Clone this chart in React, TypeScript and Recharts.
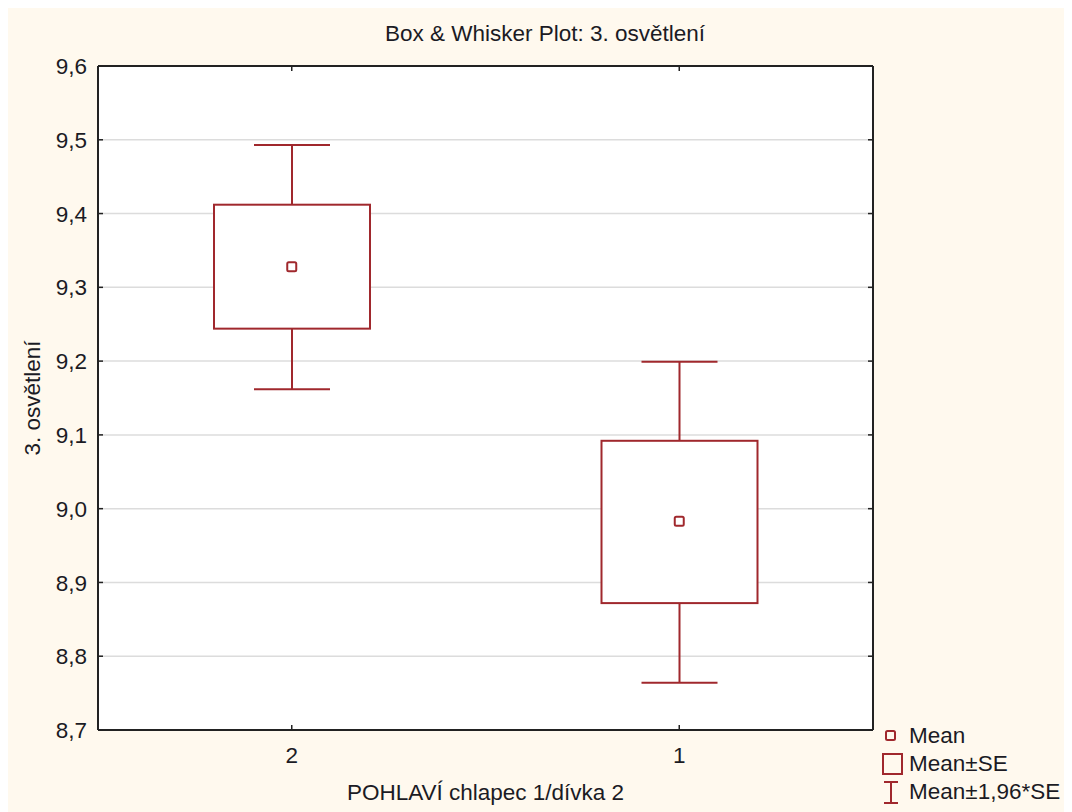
import React from 'react';
import {
  ComposedChart,
  Bar,
  Scatter,
  XAxis,
  YAxis,
  CartesianGrid,
} from 'recharts';

// values
const categories = ['2', '1'];
const means = [9.328, 8.983];
const boxLow = [9.244, 8.872];
const boxHigh = [9.412, 9.092];
const whiskerLow = [9.162, 8.764];
const whiskerHigh = [9.493, 9.199];
const yTicks = [8.7, 8.8, 8.9, 9.0, 9.1, 9.2, 9.3, 9.4, 9.5, 9.6];

const title = 'Box & Whisker Plot: 3. osvětlení';
const xTitle = 'POHLAVÍ chlapec 1/dívka 2';
const yTitle = '3. osvětlení';

const RED = '#a0282d';
const INK = '#1b1b24';
const BG = '#fff9ee';
const FONT = '"Liberation Sans", Arial, sans-serif';
const FS = 22.5;

const data = categories.map((cat, i) => ({
  cat,
  mean: means[i],
  box: [boxLow[i], boxHigh[i]],
  whisker: [whiskerLow[i], whiskerHigh[i]],
}));

const fmt = (v: number) => v.toFixed(1).replace('.', ',');

const WhiskerShape = (props: any) => {
  const { x, y, width, height } = props;
  const cx = x + width / 2;
  const cap = 38;
  return (
    <g stroke={RED} strokeWidth={2}>
      <line x1={cx} x2={cx} y1={y} y2={y + height} />
      <line x1={cx - cap} x2={cx + cap} y1={y} y2={y} />
      <line x1={cx - cap} x2={cx + cap} y1={y + height} y2={y + height} />
    </g>
  );
};

const BoxShape = (props: any) => {
  const { x, y, width, height } = props;
  return <rect x={x} y={y} width={width} height={height} fill="#fff" stroke={RED} strokeWidth={2} />;
};

const MeanShape = (props: any) => {
  const { cx, cy } = props;
  return <rect x={cx - 4.5} y={cy - 4.5} width={9} height={9} rx={1.5} fill="#fff" stroke={RED} strokeWidth={2} />;
};

const LeftTick = (props: any) => {
  const { x, y, payload } = props;
  const ax = x + 11;
  return (
    <g>
      <line x1={ax} x2={ax + 5} y1={y} y2={y} stroke="#222" strokeWidth={1.5} />
      <text x={x} y={y} dy="0.36em" textAnchor="end" fill={INK} fontSize={FS} fontFamily={FONT}>
        {fmt(payload.value)}
      </text>
    </g>
  );
};

const RightTick = (props: any) => {
  const { x, y } = props;
  return <line x1={x - 5} x2={x} y1={y} y2={y} stroke="#222" strokeWidth={1.5} />;
};

const BottomTick = (props: any) => {
  const { x, y, payload } = props;
  const ay = y - 17;
  return (
    <g>
      <line x1={x} x2={x} y1={ay} y2={ay - 5} stroke="#222" strokeWidth={1.5} />
      <text x={x} y={y} dy="0.71em" textAnchor="middle" fill={INK} fontSize={FS} fontFamily={FONT}>
        {payload.value}
      </text>
    </g>
  );
};

const TopTick = (props: any) => {
  const { x, y } = props;
  return <line x1={x} x2={x} y1={y} y2={y + 5} stroke="#222" strokeWidth={1.5} />;
};

const YTitle = (props: any) => {
  const { viewBox } = props;
  const cx = 24;
  const cy = viewBox.y + viewBox.height / 2;
  return (
    <text
      x={cx}
      y={cy}
      transform={`rotate(-90 ${cx} ${cy})`}
      textAnchor="middle"
      dominantBaseline="central"
      fill={INK}
      fontSize={FS}
      fontFamily={FONT}
    >
      {yTitle}
    </text>
  );
};

const LegendIcon = ({ kind }: { kind: string }) => (
  <svg width={24} height={26} style={{ display: 'block' }}>
    {kind === 'mean' && <rect x={5} y={8} width={9} height={9} rx={1.5} fill="none" stroke={RED} strokeWidth={2} />}
    {kind === 'box' && <rect x={2} y={3} width={19} height={20} fill="none" stroke={RED} strokeWidth={2} />}
    {kind === 'whisker' && (
      <g stroke={RED} strokeWidth={2}>
        <line x1={10} x2={10} y1={3} y2={24} />
        <line x1={3} x2={17} y1={3} y2={3} />
        <line x1={3} x2={17} y1={24} y2={24} />
      </g>
    )}
  </svg>
);

const legendItems = [
  { kind: 'mean', label: 'Mean' },
  { kind: 'box', label: 'Mean±SE' },
  { kind: 'whisker', label: 'Mean±1,96*SE' },
];

export default function App() {
  return (
    <div style={{ position: 'relative', width: 1064, height: 804, background: BG, fontFamily: FONT }}>
      <div
        style={{
          position: 'absolute',
          left: 0,
          width: 1074,
          top: 13,
          textAlign: 'center',
          fontSize: FS,
          color: INK,
        }}
      >
        {title}
      </div>
      <ComposedChart
        width={1064}
        height={804}
        data={data}
        margin={{ top: 50, right: 189, bottom: 52, left: 0 }}
        barGap={-156}
      >
        <CartesianGrid vertical={false} stroke="#dcdcdc" strokeWidth={1.5} fill="#fff" />
        <XAxis
          dataKey="cat"
          height={30}
          axisLine={{ stroke: '#222', strokeWidth: 2 }}
          tickLine={false}
          tickSize={0}
          tickMargin={17}
          tick={<BottomTick />}
          label={{ value: xTitle, position: 'insideBottom', offset: -40, fill: INK, fontSize: FS, fontFamily: FONT }}
        />
        <XAxis
          xAxisId="top"
          orientation="top"
          dataKey="cat"
          height={8}
          axisLine={{ stroke: '#222', strokeWidth: 2 }}
          tickLine={false}
          tickSize={0}
          tickMargin={0}
          tick={<TopTick />}
        />
        <YAxis
          width={90}
          domain={[8.7, 9.6]}
          ticks={yTicks}
          type="number"
          allowDataOverflow
          axisLine={{ stroke: '#222', strokeWidth: 2 }}
          tickLine={false}
          tickSize={0}
          tickMargin={11}
          tick={<LeftTick />}
          label={<YTitle />}
        />
        <YAxis
          yAxisId="right"
          orientation="right"
          width={10}
          domain={[8.7, 9.6]}
          ticks={yTicks}
          type="number"
          allowDataOverflow
          axisLine={{ stroke: '#222', strokeWidth: 2 }}
          tickLine={false}
          tickSize={0}
          tickMargin={0}
          tick={<RightTick />}
        />
        <Bar dataKey="whisker" barSize={156} shape={<WhiskerShape />} isAnimationActive={false} />
        <Bar dataKey="box" barSize={156} shape={<BoxShape />} isAnimationActive={false} />
        <Scatter
          dataKey="mean"
          xAxisId="top"
          yAxisId="right"
          shape={<MeanShape />}
          isAnimationActive={false}
        />
      </ComposedChart>
      <div style={{ position: 'absolute', left: 873, top: 714, color: INK, fontSize: FS }}>
        {legendItems.map((it) => (
          <div key={it.kind} style={{ display: 'flex', alignItems: 'center', height: 28 }}>
            <LegendIcon kind={it.kind} />
            <span style={{ marginLeft: 4 }}>{it.label}</span>
          </div>
        ))}
      </div>
    </div>
  );
}
